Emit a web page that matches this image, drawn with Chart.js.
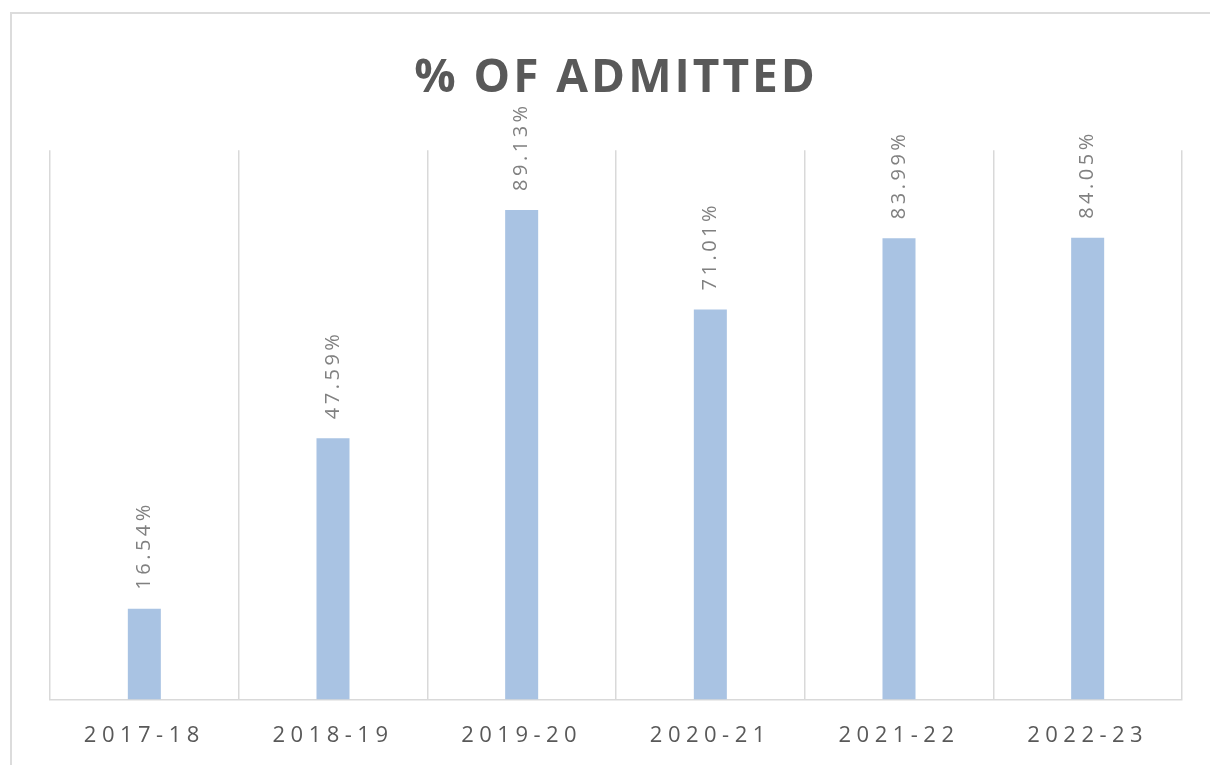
<!DOCTYPE html>
<html>
<head>
<meta charset="utf-8">
<script src="https://cdn.jsdelivr.net/npm/chart.js@4.4.0/dist/chart.umd.min.js"></script>
<style>
  html, body { margin: 0; padding: 0; background: #ffffff; overflow: hidden; }
  #frame { position: absolute; left: 10px; top: 12px; width: 1230px; height: 800px; border: 2px solid #dcdcdc; box-sizing: border-box; }
  #wrap { position: absolute; left: 0; top: 0; width: 1210px; height: 790px; }
</style>
</head>
<body>
<div id="frame"></div>
<div id="wrap"><canvas id="c"></canvas></div>
<script>
const categories = ['2017-18', '2018-19', '2019-20', '2020-21', '2021-22', '2022-23'];
const admittedPct = [16.54, 47.59, 89.13, 71.01, 83.99, 84.05];
const chartTitle = '% OF ADMITTED';

const labelPlugin = {
  id: 'valueLabels',
  afterDatasetsDraw(chart) {
    const ctx = chart.ctx;
    const meta = chart.getDatasetMeta(0);
    ctx.save();
    ctx.font = '20px "Open Sans"';
    ctx.fillStyle = '#808080';
    ctx.letterSpacing = '3.5px';
    ctx.textAlign = 'left';
    ctx.textBaseline = 'middle';
    meta.data.forEach((bar, i) => {
      ctx.save();
      ctx.translate(bar.x, bar.y - 19);
      ctx.rotate(-Math.PI / 2);
      ctx.fillText(admittedPct[i].toFixed(2) + '%', 0, 0);
      ctx.restore();
    });
    ctx.restore();
  }
};

const spacingPlugin = {
  id: 'spacing',
  beforeDraw(chart) {
    const ctx = chart.ctx;
    const sc = chart.scales.x;
    if (sc && !sc._spaced) {
      const orig = sc.drawLabels;
      sc.drawLabels = function (a) { ctx.save(); ctx.letterSpacing = '5.5px'; orig.call(sc, a); ctx.restore(); };
      sc._spaced = true;
    }
    const tb = chart.titleBlock;
    if (tb && !tb._spaced) {
      const origT = tb.draw;
      tb.draw = function (a) { ctx.save(); ctx.letterSpacing = '3px'; origT.call(tb, a); ctx.restore(); };
      tb._spaced = true;
    }
  }
};

new Chart(document.getElementById('c'), {
  type: 'bar',
  data: {
    labels: categories,
    datasets: [{
      data: admittedPct,
      backgroundColor: '#a9c3e3',
      borderWidth: 0,
      categoryPercentage: 1,
      barPercentage: 0.175
    }]
  },
  options: {
    responsive: true,
    maintainAspectRatio: false,
    animation: false,
    layout: { padding: { left: 50, right: 28, top: 0, bottom: 18 } },
    plugins: {
      legend: { display: false },
      tooltip: { enabled: false },
      title: {
        display: true,
        text: chartTitle,
        color: '#595959',
        font: { family: '"Open Sans"', size: 46, weight: 'bold' },
        padding: { top: 51, bottom: 44 }
      }
    },
    scales: {
      x: {
        grid: { display: true, offset: true, color: '#d9d9d9', lineWidth: 1.5, drawTicks: false },
        border: { display: true, color: '#d9d9d9', width: 1.5 },
        ticks: { color: '#595959', font: { family: '"Open Sans"', size: 22 }, padding: 23 }
      },
      y: {
        display: false,
        min: 0,
        max: 100
      }
    }
  },
  plugins: [labelPlugin, spacingPlugin]
});
</script>
</body>
</html>
